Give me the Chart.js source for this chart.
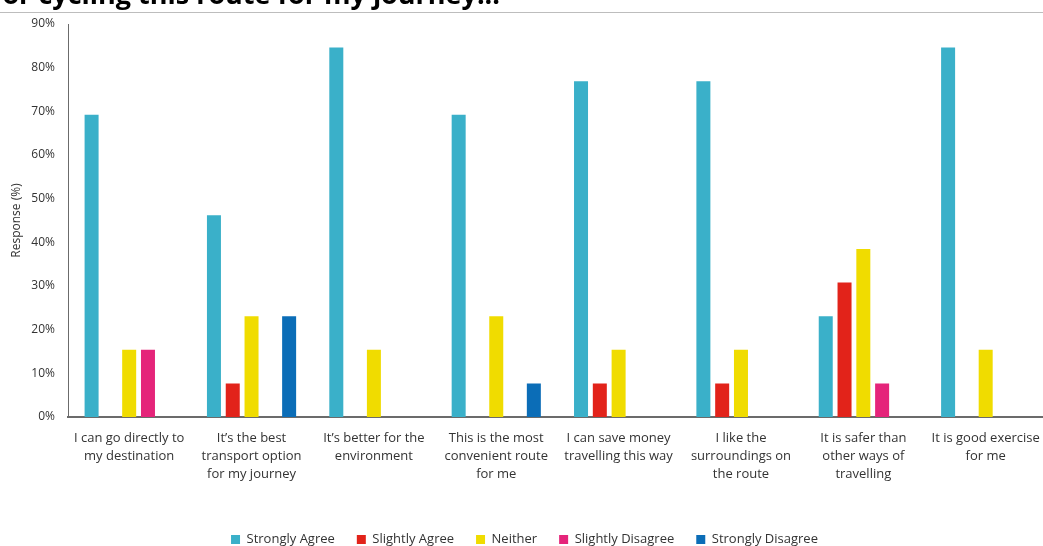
<!DOCTYPE html>
<html>
<head>
<meta charset="utf-8">
<title>Reasons for choosing the route</title>
<script src="https://cdn.jsdelivr.net/npm/chart.js@4.4.1/dist/chart.umd.min.js"></script>
<style>
  html, body { margin: 0; padding: 0; background: #fff; overflow: hidden; }
  #wrap { position: relative; width: 1052px; height: 556px; }
</style>
</head>
<body>
<div id="wrap"><canvas id="chart"></canvas></div>
<script>
const categories = [
	['I can go directly to', 'my destination'],
	['It\u2019s the best', 'transport option', 'for my journey'],
	['It\u2019s better for the', 'environment'],
	['This is the most', 'convenient route', 'for me'],
	['I can save money', 'travelling this way'],
	['I like the', 'surroundings on', 'the route'],
	['It is safer than', 'other ways of', 'travelling'],
	['It is good exercise', 'for me'],
];

const stronglyAgree = [69.2, 46.2, 84.6, 69.2, 76.9, 76.9, 23.1, 84.6];
const slightlyAgree = [0, 7.7, 0, 0, 7.7, 7.7, 30.8, 0];
const neither = [15.4, 23.1, 15.4, 23.1, 15.4, 15.4, 38.5, 15.4];
const slightlyDisagree = [15.4, 0, 0, 0, 0, 0, 7.7, 0];
const stronglyDisagree = [0, 23.1, 0, 7.7, 0, 0, 0, 0];

const yTicks = [0, 10, 20, 30, 40, 50, 60, 70, 80, 90];

const titleText = 'or cycling this route for my journey...';

const FONT = "'Open Sans', 'Noto Sans', sans-serif";
const TEXT = '#333';

// heading across the top with a rule underneath
const headingPlugin = {
	id: 'heading',
	afterDraw(chart) {
		const ctx = chart.ctx;
		ctx.save();
		ctx.fillStyle = '#000';
		ctx.font = "bold 27px " + FONT;
		ctx.textAlign = 'right';
		ctx.textBaseline = 'alphabetic';
		ctx.fillText(titleText, 500, 4);
		ctx.strokeStyle = '#bdbdbd';
		ctx.lineWidth = 1;
		ctx.beginPath();
		ctx.moveTo(0, 12.5);
		ctx.lineTo(chart.width, 12.5);
		ctx.stroke();
		ctx.restore();
	},
};

const series = [
	{ label: 'Strongly Agree', data: stronglyAgree, color: '#3ab0c9' },
	{ label: 'Slightly Agree', data: slightlyAgree, color: '#e2231a' },
	{ label: 'Neither', data: neither, color: '#f0dc00' },
	{ label: 'Slightly Disagree', data: slightlyDisagree, color: '#e5247a' },
	{ label: 'Strongly Disagree', data: stronglyDisagree, color: '#0b6db7' },
];

new Chart(document.getElementById('chart'), {
	type: 'bar',
	data: {
		labels: categories,
		datasets: series.map((s) => ({
			label: s.label,
			data: s.data,
			backgroundColor: s.color,
			borderWidth: 0,
			categoryPercentage: 0.768,
			barPercentage: 0.745,
		})),
	},
	options: {
		responsive: true,
		maintainAspectRatio: false,
		animation: false,
		layout: {
			padding: { top: 24, right: 3, left: 0, bottom: 0 },
		},
		plugins: {
			legend: {
				position: 'bottom',
				labels: {
					boxWidth: 9,
					boxHeight: 9,
					padding: 22,
					color: TEXT,
					font: { family: FONT, size: 13 },
				},
			},
			tooltip: { enabled: false },
		},
		scales: {
			x: {
				grid: { display: false, drawTicks: false },
				border: { display: true, color: '#6b6b6b', width: 2 },
				ticks: {
					color: TEXT,
					padding: 12,
					maxRotation: 0,
					autoSkip: false,
					font: { family: FONT, size: 13, lineHeight: 1.38 },
				},
				afterFit(scale) {
					scale.height = 94;
				},
			},
			y: {
				min: 0,
				max: 90,
				afterBuildTicks(scale) {
					scale.ticks = yTicks.map((v) => ({ value: v }));
				},
				grid: { display: false, drawTicks: false },
				border: { display: true, color: '#6b6b6b', width: 1 },
				ticks: {
					color: TEXT,
					padding: 13,
					font: { family: FONT, size: 12 },
					callback: (v) => v + '%',
				},
				title: {
					display: true,
					text: 'Response (%)',
					color: TEXT,
					padding: { top: 9, bottom: 0 },
					font: { family: FONT, size: 12 },
				},
				afterFit(scale) {
					scale.width = 68;
				},
			},
		},
	},
	plugins: [headingPlugin],
});
</script>
</body>
</html>
